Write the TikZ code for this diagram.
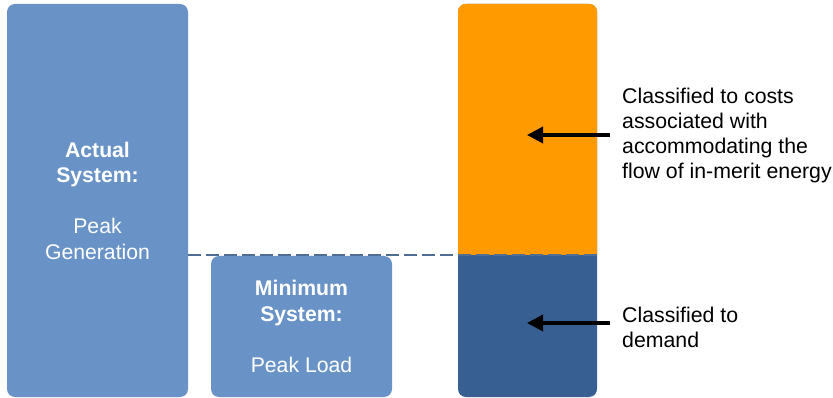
\documentclass[tikz,border=0pt]{standalone}
\usepackage{fontspec}
\setmainfont{Liberation Sans}
\usetikzlibrary{arrows.meta}
\definecolor{boxblue}{HTML}{6993C7}
\definecolor{deepblue}{HTML}{375F92}
\definecolor{amber}{HTML}{FF9A00}
\definecolor{dashblue}{HTML}{4F6E96}
\tikzset{
  sysbox/.style={rectangle, fill=boxblue, rounded corners=8pt, inner sep=0pt,
    text=white, align=center, font=\fontsize{21.2}{25.5}\selectfont},
  note/.style={anchor=west, align=left, inner sep=0pt, text=black,
    font=\fontsize{21.3}{25}\selectfont},
  pointer/.style={line width=3.5pt, -{Triangle[length=16pt,width=16pt]}},
  level/.style={dashblue, line width=1.5pt, dash pattern=on 13pt off 5pt}
}
\begin{document}
\begin{tikzpicture}[x=1pt,y=-1pt]
\useasboundingbox (0,0) rectangle (833,398);
% actual system column
\node[sysbox, minimum width=181pt, minimum height=393pt] (actual) at (97.5,200.5)
  {\textbf{Actual}\\\textbf{System:}\\[25.5pt]Peak\\Generation};
% minimum system column
\node[sysbox, minimum width=181pt, minimum height=141pt] (minimum) at (301.5,326.5)
  {\textbf{Minimum}\\\textbf{System:}\\[25.5pt]Peak Load};
% classified column: demand part below, energy part above
\node[rectangle, fill=deepblue, rounded corners=8pt, inner sep=0pt,
  minimum width=139pt, minimum height=393pt] (split) at (527.5,200.5) {};
\begin{scope}
  \clip (458,0) rectangle (597,255);
  \fill[amber, rounded corners=8pt] (split.north west) rectangle (split.south east);
\end{scope}
% peak level line
\coordinate (lvlA) at (actual.east |- 0,255);
\coordinate (lvlB) at (split.east |- 0,255);
\draw[level] (lvlA) -- (lvlB);
% notes and arrows
\node[note] (energy) at (622,135)
  {Classified to costs\\associated with\\accommodating the\\flow of in-merit energy};
\node[note] (demand) at (622,327) {Classified to\\demand};
\coordinate (p1s) at (610,135);
\coordinate (p1e) at (527,135);
\coordinate (p2s) at (610,323);
\coordinate (p2e) at (527,323);
\draw[pointer] (p1s) -- (p1e);
\draw[pointer] (p2s) -- (p2e);
\end{tikzpicture}
\end{document}
